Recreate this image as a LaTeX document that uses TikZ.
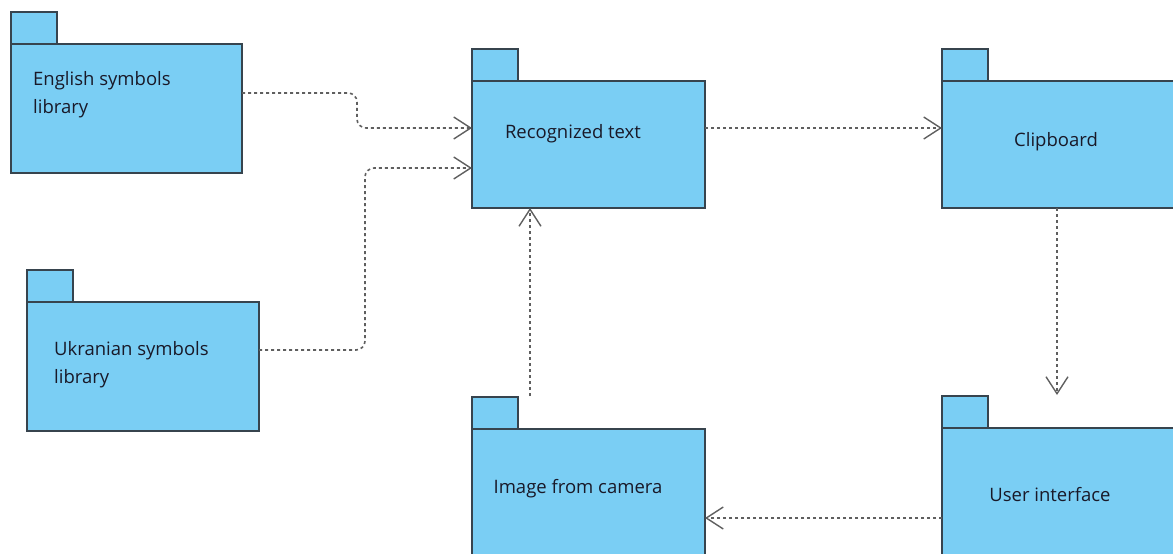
\documentclass[tikz,border=0pt]{standalone}
\usepackage{fontspec}
\setmainfont{Open Sans}
\usetikzlibrary{arrows.meta}
\definecolor{pkfill}{RGB}{122,206,244}
\definecolor{pkline}{RGB}{55,68,78}
\definecolor{depc}{RGB}{95,95,95}
\definecolor{txtc}{RGB}{25,25,40}
\begin{document}
\begin{tikzpicture}[x=1pt,y=-1pt,
  pkbody/.style={draw=pkline, fill=pkfill, line width=1.9pt, anchor=north west, inner sep=0pt, outer sep=0pt},
  pktab/.style={draw=pkline, fill=pkfill, line width=1.9pt, anchor=south west, inner sep=0pt, outer sep=0pt, minimum width=46pt, minimum height=32pt},
  lbl/.style={text=txtc, font=\fontsize{18.5}{28}\selectfont, inner sep=0pt, align=left},
  dep/.style={draw=depc, line width=1.6pt, dash pattern=on 3pt off 3pt, rounded corners=9pt,
    -{Straight Barb[length=17pt,width=22pt,line width=1.4pt]}}
]
\useasboundingbox (0,0) rectangle (1173,554);

% English symbols library
\node[pktab] (engtab) at (11,44) {};
\node[pkbody, minimum width=231pt, minimum height=129pt] (eng) at (11,44) {};
\node[lbl, anchor=west] (engtxt) at (33,95) {English symbols\\library};

% Ukranian symbols library
\node[pktab] (ukrtab) at (27,302) {};
\node[pkbody, minimum width=232pt, minimum height=129pt] (ukr) at (27,302) {};
\node[lbl, anchor=west] (ukrtxt) at (54,365) {Ukranian symbols\\library};

% Recognized text
\node[pktab] (rectab) at (472,81) {};
\node[pkbody, minimum width=233pt, minimum height=127pt] (rec) at (472,81) {};
\node[lbl] (rectxt) at (573,134) {Recognized text};

% Clipboard
\node[pktab] (cliptab) at (942,81) {};
\node[pkbody, minimum width=232pt, minimum height=127pt] (clip) at (942,81) {};
\node[lbl] (cliptxt) at (1056,142) {Clipboard};

% Image from camera
\node[pktab] (imgtab) at (472,429) {};
\node[pkbody, minimum width=233pt, minimum height=130pt] (img) at (472,429) {};
\node[lbl] (imgtxt) at (578,489) {Image from camera};

% User interface
\node[pktab] (uitab) at (942,428) {};
\node[pkbody, minimum width=233pt, minimum height=130pt] (ui) at (942,428) {};
\node[lbl] (uitxt) at (1050,495) {User interface};

% connectors
\coordinate (imgtop) at (530,396);
\coordinate (uitop) at (1057,395);
\draw[dep] (eng.east |- 0,93) -- (357,93) -- (357,128) -- (rec.west |- 0,128);
\draw[dep] (ukr.east |- 0,350) -- (365,350) -- (365,168) -- (rec.west |- 0,168);
\draw[dep] (rec.east |- 0,128) -- (clip.west |- 0,128);
\draw[dep] (clip.south -| uitop) -- (uitop);
\draw[dep] (ui.west |- 0,518) -- (img.east |- 0,518);
\draw[dep] (imgtop) -- (rec.south -| imgtop);
\end{tikzpicture}
\end{document}
